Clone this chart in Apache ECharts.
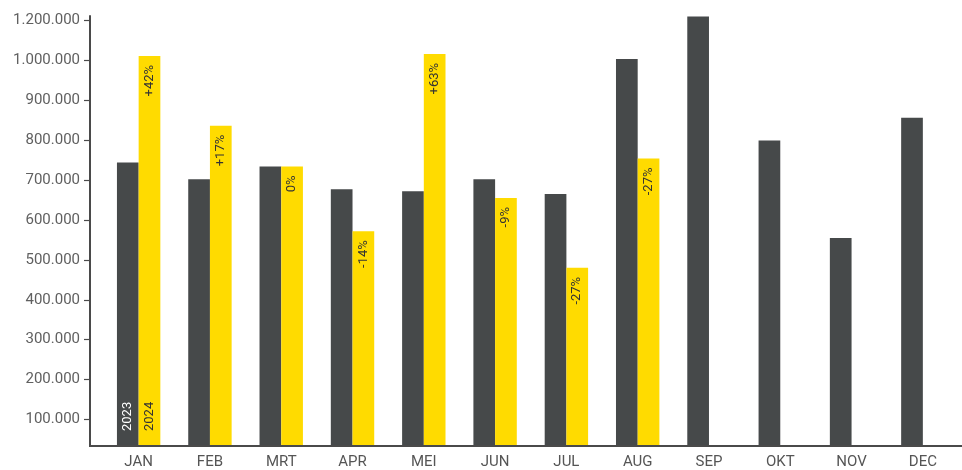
<!DOCTYPE html>
<html>
<head>
<meta charset="utf-8">
<script src="https://cdn.jsdelivr.net/npm/echarts@6/dist/echarts.min.js"></script>
<style>
  html, body { margin: 0; padding: 0; background: #ffffff; }
  #chart { width: 962px; height: 470px; }
</style>
</head>
<body>
<div id="chart"></div>
<script>
// ---- Data ----
const months = ['JAN', 'FEB', 'MRT', 'APR', 'MEI', 'JUN', 'JUL', 'AUG', 'SEP', 'OKT', 'NOV', 'DEC'];
const values2023 = [744000, 702000, 734000, 677000, 672000, 702000, 665000, 1003000, 1110000, 799000, 555000, 856000];
const values2024 = [1011000, 836000, 734000, 572000, 1016000, 655000, 480000, 754000, null, null, null, null];
const changeLabels = ['+42%', '+17%', '0%', '-14%', '+63%', '-9%', '-27%', '-27%', '', '', '', ''];
const seriesNames = ['2023', '2024'];
const yTickValues = [100000, 200000, 300000, 400000, 500000, 600000, 700000, 800000, 900000, 1000000, 1100000];
const yTickLabels = ['100.000', '200.000', '300.000', '400.000', '500.000', '600.000', '700.000', '800.000', '900.000', '1.000.000', '1.200.000'];
const yMin = 33750;
const yMax = 1111000;

const DARK = '#46494a';
const YELLOW = '#ffdb00';
const FONT = 'Roboto, "Noto Sans", sans-serif';
const BAR_W = 21.7;
const LABEL_FS = 13;

const chart = echarts.init(document.getElementById('chart'), null, { renderer: 'canvas' });

const data2023 = values2023.map((v, i) => {
  const item = { value: v };
  if (i === 0) {
    item.label = {
      show: true, formatter: seriesNames[0], position: 'insideBottom', distance: 15,
      rotate: 90, align: 'left', verticalAlign: 'middle',
      color: '#ffffff', fontSize: LABEL_FS, fontFamily: FONT
    };
  }
  return item;
});

const data2024 = values2024.map((v, i) => {
  const item = { value: v };
  if (v != null && changeLabels[i]) {
    item.label = {
      show: true, formatter: changeLabels[i], position: 'insideTop', distance: 9,
      rotate: 90, align: 'right', verticalAlign: 'middle',
      color: '#333333', fontSize: LABEL_FS, fontFamily: FONT
    };
  }
  return item;
});

const option = {
  animation: false,
  backgroundColor: '#ffffff',
  textStyle: { fontFamily: FONT },
  grid: { left: 103, right: 3.5, top: 16, bottom: 21.7, containLabel: false },
  xAxis: {
    type: 'category',
    data: months,
    boundaryGap: true,
    axisLine: { show: false },
    axisTick: { show: false },
    axisLabel: { color: '#555555', fontSize: 15, margin: 9, fontFamily: FONT }
  },
  yAxis: {
    type: 'value',
    min: yMin,
    max: yMax,
    offset: 13,
    splitLine: { show: false },
    axisLine: { show: true, lineStyle: { color: '#4a4a4a', width: 2 } },
    axisTick: { show: true, length: 6, lineStyle: { color: '#4a4a4a', width: 1.2 }, customValues: yTickValues },
    axisLabel: {
      color: '#606060', fontSize: 15, margin: 10, fontFamily: FONT,
      customValues: yTickValues,
      formatter: function (val) {
        const idx = yTickValues.indexOf(val);
        return idx >= 0 ? yTickLabels[idx] : '';
      }
    }
  },
  series: [
    {
      name: seriesNames[0], type: 'bar', data: data2023,
      barWidth: BAR_W, barGap: '0%',
      itemStyle: { color: DARK }
    },
    {
      name: seriesNames[1], type: 'bar', data: data2024,
      barWidth: BAR_W, barGap: '0%',
      itemStyle: { color: YELLOW }
    }
  ]
};

chart.setOption(option);

(function addExtras() {
  const base = chart.convertToPixel({ gridIndex: 0 }, [0, yMin]);
  const janCenter = chart.convertToPixel({ xAxisIndex: 0 }, 0);
  const gridLeft = 103;
  chart.setOption({
    graphic: [
      {
        type: 'line', z: 10,
        shape: { x1: gridLeft - 14, y1: base[1], x2: 962, y2: base[1] },
        style: { stroke: '#4a4a4a', lineWidth: 2 }
      },
      {
        type: 'text', z: 20,
        x: janCenter + BAR_W / 2, y: base[1] - 15,
        rotation: Math.PI / 2,
        style: {
          text: seriesNames[1], fill: '#333333', font: LABEL_FS + 'px ' + FONT,
          align: 'left', verticalAlign: 'middle'
        }
      }
    ]
  });
})();
</script>
</body>
</html>
